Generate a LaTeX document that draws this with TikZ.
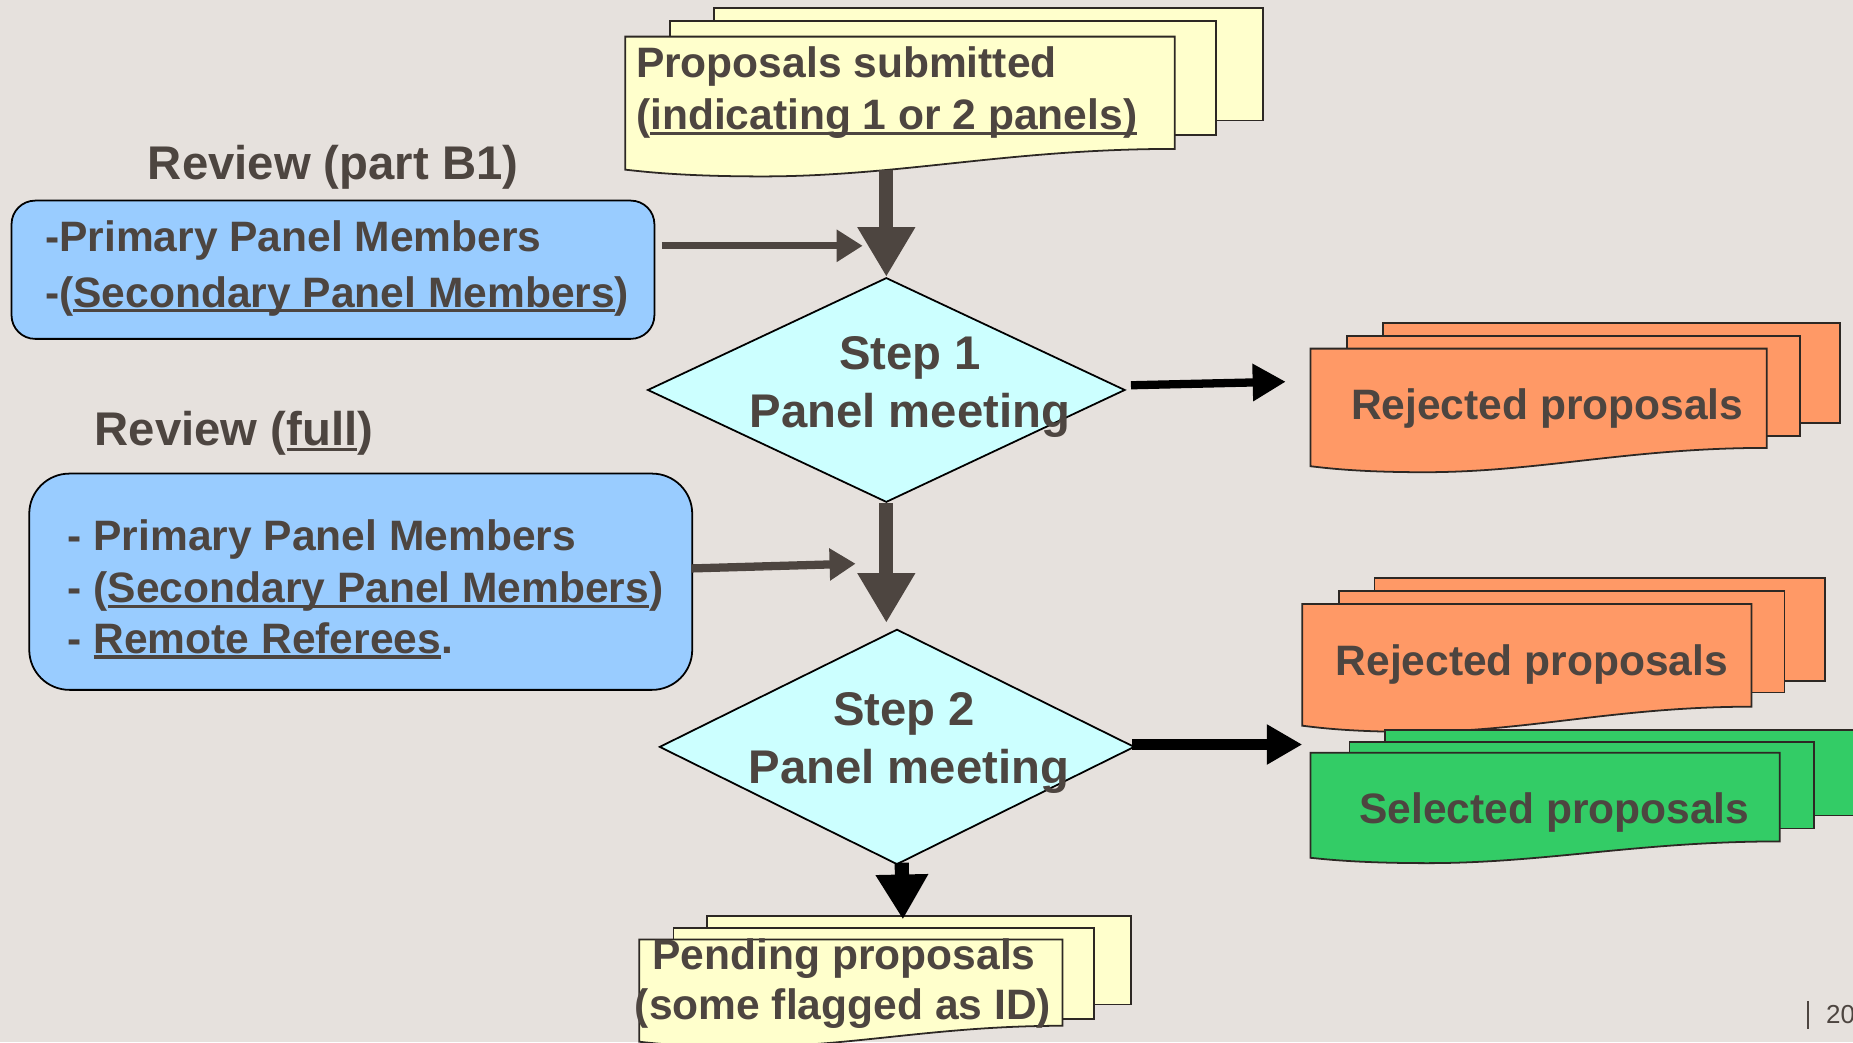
\documentclass[tikz,border=0pt]{standalone}
\usepackage{fontspec}
\setmainfont{Liberation Sans}
\usetikzlibrary{shapes.geometric,arrows.meta}
\definecolor{bg}{RGB}{230,225,221}
\definecolor{ink}{RGB}{77,69,64}
\definecolor{edge}{RGB}{45,40,36}
\definecolor{docyellow}{RGB}{255,255,204}
\definecolor{boxblue}{RGB}{153,204,255}
\definecolor{diacyan}{RGB}{204,255,255}
\definecolor{rejorange}{RGB}{255,153,102}
\definecolor{selgreen}{RGB}{51,204,102}
\newcommand\myul[1]{\setbox0\hbox{#1}\rlap{\rule[-0.12em]{\wd0}{0.075em}}\box0}
\newcommand\fbig{\fontsize{40bp}{48bp}\selectfont\bfseries}
\newcommand\fmid{\fontsize{36bp}{43bp}\selectfont\bfseries}
\newcommand\docshape[5]{%
  \pgfmathsetmacro\dw{#3-#1}%
  \pgfmathsetmacro\dh{#4-#2}%
  \filldraw[docline,fill=#5] (#1,#2) -- (#3,#2) -- (#3,#4)
    .. controls ({#3-0.3*\dw},{#4}) and ({#1+0.5*\dw},{#4+0.245*\dh}) .. ({#1+0.25*\dw},{#4+0.245*\dh})
    .. controls ({#1+0.1*\dw},{#4+0.245*\dh}) and ({#1+0.03*\dw},{#4+0.2*\dh}) .. (#1,{#4+0.185*\dh}) -- cycle;}
\tikzset{
  txt/.style={inner sep=0pt, text=ink, font=\fmid},
  ttl/.style={inner sep=0pt, text=ink, font=\fbig},
  bluebox/.style={draw=black, fill=boxblue, line width=1.5bp},
  decision/.style={diamond, draw=black, fill=diacyan, line width=1.5bp, inner sep=0pt},
  docline/.style={draw=edge, line width=1.5bp},
  sheet/.style={draw=edge, line width=1.5bp},
  heavy/.style={draw=ink, line width=12bp, -{Triangle[length=42bp,width=46bp]}},
  feed/.style={draw=ink, line width=6bp, -{Triangle[length=22bp,width=26bp]}},
  outblack/.style={draw=black, line width=8bp, -{Triangle[length=28bp,width=30bp]}},
  downblack/.style={draw=black, line width=12bp, -{Triangle[length=38bp,width=42bp]}}
}
\begin{document}
\begin{tikzpicture}[x=1bp,y=-1bp]
\useasboundingbox (0,0) rectangle (1568,882);
\clip (0,0) rectangle (1568,882);
\fill[bg] (0,0) rectangle (1568,882);

% submitted stack
\filldraw[sheet,fill=docyellow] (604,7) rectangle (1069,102);
\filldraw[sheet,fill=docyellow] (567,18) rectangle (1029,114);
\docshape{529}{31}{994}{126}{docyellow}
\node[txt,anchor=base west] (sub1) at (538,66) {Proposals submitted};
\node[txt,anchor=base west] (sub2) at (538,110) {(\myul{indicating 1 or 2 panels)}};
\coordinate (subout) at (750,144);

% review B1
\node[ttl,anchor=base west] (revt1) at (125,152) {Review (part B1)};
\node[bluebox,rounded corners=20bp,minimum width=544bp,minimum height=117bp,anchor=north west] (rev1) at (9,169) {};
\node[txt,anchor=base west] (rev1a) at (38,213) {-Primary Panel Members};
\node[txt,anchor=base west] (rev1b) at (38,260) {-(\myul{Secondary Panel Members})};
\coordinate (f1s) at (560,208);
\coordinate (f1e) at (730,208);

% review full
\node[ttl,anchor=base west] (revt2) at (80,377) {Review (\myul{full})};
\node[bluebox,rounded corners=34bp,minimum width=561bp,minimum height=183bp,anchor=north west] (rev2) at (24,400) {};
\node[txt,anchor=base west] (rev2a) at (57,466) {- Primary Panel Members};
\node[txt,anchor=base west] (rev2b) at (57,510) {- (\myul{Secondary Panel Members})};
\node[txt,anchor=base west] (rev2c) at (57,553) {- \myul{Remote Referees}.};
\coordinate (f2s) at (585,481);
\coordinate (f2e) at (724,477);

% step 1
\node[decision,minimum width=404bp,minimum height=190bp] (d1) at (750,330) {};
\node[ttl,anchor=base] (d1a) at (770,313) {Step 1};
\node[ttl,anchor=base] (d1b) at (770,362) {Panel meeting};
\coordinate (d1r) at (957,326);
\coordinate (rej1in) at (1088,323);
\coordinate (d1out) at (750,527);

% step 2
\node[decision,minimum width=402bp,minimum height=199bp] (d2) at (759,632) {};
\node[ttl,anchor=base] (d2a) at (765,614) {Step 2};
\node[ttl,anchor=base] (d2b) at (769,663) {Panel meeting};
\coordinate (d2r) at (958,630);
\coordinate (outin) at (1102,630);
\coordinate (d2bot) at (763,730);
\coordinate (pendin) at (764,778);

% rejected 1
\filldraw[sheet,fill=rejorange] (1170,273) rectangle (1557,358);
\filldraw[sheet,fill=rejorange] (1140,284) rectangle (1523,369);
\docshape{1109}{295}{1495}{379}{rejorange}
\node[txt,anchor=base west] (rej1) at (1143,355) {Rejected proposals};

% rejected 2
\filldraw[sheet,fill=rejorange] (1163,489) rectangle (1544,576);
\filldraw[sheet,fill=rejorange] (1133,500) rectangle (1510,586);
\docshape{1102}{511}{1482}{598}{rejorange}
\node[txt,anchor=base west] (rej2) at (1130,572) {Rejected proposals};

% selected
\filldraw[sheet,fill=selgreen] (1172,618) rectangle (1600,690);
\filldraw[sheet,fill=selgreen] (1142,628) rectangle (1535,701);
\docshape{1109}{637}{1506}{712}{selgreen}
\node[txt,anchor=base west] (sel) at (1150,697) {Selected proposals};

% pending
\filldraw[sheet,fill=docyellow] (598,775) rectangle (957,850);
\filldraw[sheet,fill=docyellow] (570,785) rectangle (926,862);
\docshape{541}{795}{899}{868}{docyellow}
\node[txt,anchor=base west] (pend1) at (552,820) {Pending proposals};
\node[txt,anchor=base west] (pend2) at (537,863) {(some flagged as ID)};

% connectors
\draw[heavy] (subout) -- (d1.north);
\draw[feed] (f1s) -- (f1e);
\draw[outblack,line width=7bp] (d1r) -- (rej1in);
\draw[heavy] (d1.south) -- (d1out);
\draw[feed,line width=7bp] (f2s) -- (f2e);
\draw[outblack,line width=9bp,-{Triangle[length=30bp,width=32bp]}] (d2r) -- (outin);
\draw[downblack] (d2bot) -- (pendin);

% page number
\draw[ink,line width=2bp] (1530,847) -- (1530,871);
\node[inner sep=0pt,anchor=base west,text=ink,font=\fontsize{22bp}{26bp}\selectfont] (pg) at (1545,866) {20};
\end{tikzpicture}
\end{document}
